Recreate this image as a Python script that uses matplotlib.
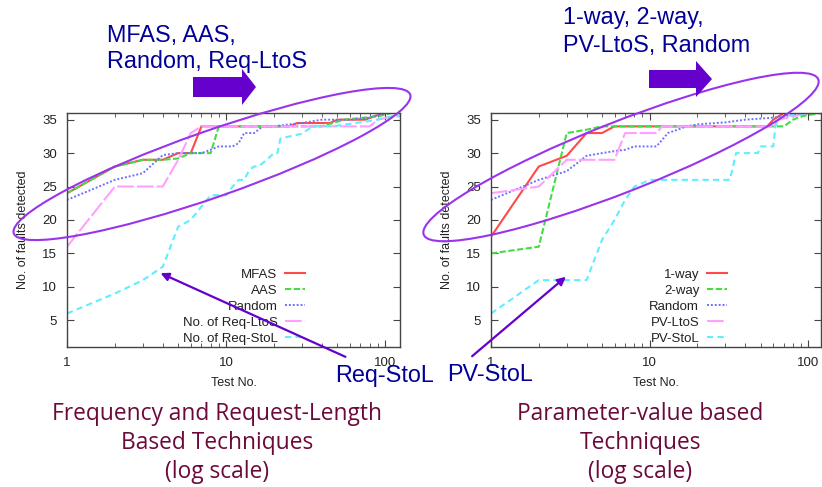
import matplotlib
matplotlib.use("Agg")
import matplotlib.pyplot as plt
from matplotlib.patches import Ellipse, Polygon

# ---- data ----
# left panel: frequency / request-length based
mfas_x = [1, 2, 3, 4, 5, 6, 7, 25, 28, 45, 50, 75, 85, 100, 124]
mfas_y = [24, 28, 29, 29, 30, 30, 34, 34, 34.5, 34.5, 35, 35, 35.5, 36, 36]
aas_x = [1, 2, 3, 4, 5, 6, 7, 8, 9, 40, 55, 90, 110, 124]
aas_y = [24, 28, 29, 29, 29.2, 30, 30, 30, 34, 34, 35, 35.5, 36, 36]
rand1_x = [1, 2, 3, 4, 5, 6, 7, 8, 9, 10, 11, 12, 13, 15, 17, 20, 25, 30, 40, 60, 80, 100, 124]
rand1_y = [23, 26, 27, 29.7, 30, 30, 30, 30.5, 31, 31, 31, 31.5, 33, 33, 34, 34, 34.3, 34.5, 35, 35, 35.3, 36, 36]
ltos_x = [1, 2, 3, 4, 5, 6, 7, 80, 90, 110, 124]
ltos_y = [16, 25, 25, 25, 29, 33, 34, 34, 35, 35.5, 35.5]
stol_x = [1, 2, 3, 4, 5, 6, 7, 8, 10, 11, 12, 13, 14, 15, 16, 18, 20, 21, 22, 30, 35, 50, 80, 120, 124]
stol_y = [6, 9, 11, 13, 19, 20, 22, 23.7, 23.7, 25, 26, 26, 27.5, 28, 28, 29, 30, 30, 32.2, 32.9, 34, 34.1, 34.8, 35.6, 35.6]

# right panel: parameter-value based
w1_x = [1, 2, 3, 4, 5, 6, 55, 60, 70, 120]
w1_y = [17.5, 28, 29.6, 33, 33, 34, 34, 35, 36, 36]
w2_x = [1, 2, 3, 4, 5, 70, 80, 90, 120]
w2_y = [15, 16, 33, 33.5, 34, 34, 35, 35.5, 36]
rand2_x = [1, 2, 3, 4, 5, 6, 7, 8, 9, 10, 11, 12, 13, 15, 17, 20, 30, 40, 60, 80, 100, 120]
rand2_y = [23, 26, 27.3, 29.6, 30, 30.3, 30.5, 31, 31, 31, 31, 32, 33, 33.5, 34, 34.3, 34.6, 35, 35.3, 35.7, 36, 36]
pvltos_x = [1, 2, 3, 4, 5, 6, 7, 8, 9, 10, 11, 12, 60, 65, 100, 120]
pvltos_y = [24, 25, 29, 29, 29, 29, 33, 33, 33, 33, 33, 34, 34, 35, 36, 36]
pvstol_x = [1, 2, 3, 4, 5, 6, 7, 8, 9, 10, 11, 32, 35, 48, 50, 60, 62, 64, 70, 100, 120]
pvstol_y = [6, 11, 11, 11, 17, 20, 23, 25, 25.5, 26, 26, 26, 30, 30, 31, 31, 34, 35, 35.5, 36, 36]

left_labels = ["MFAS", "AAS", "Random", "No. of Req-LtoS", "No. of Req-StoL"]
right_labels = ["1-way", "2-way", "Random", "PV-LtoS", "PV-StoL"]
y_ticks = [5, 10, 15, 20, 25, 30, 35]

# line styles (gnuplot look)
styles = [
    dict(color="#ff4a4a", lw=1.5, ls="-"),
    dict(color="#44dd44", lw=1.5, ls=(0, (3, 1.2))),
    dict(color="#7070ff", lw=1.4, ls=(0, (1, 1))),
    dict(color="#ffa0ff", lw=1.5, ls=(0, (8, 1.5))),
    dict(color="#60eeff", lw=1.5, ls=(0, (3, 2))),
]

plt.rcParams["font.family"] = ["Liberation Sans", "DejaVu Sans"]

W, H = 822, 487
fig = plt.figure(figsize=(W / 100, H / 100), dpi=100)


def make_panel(rect, series, labels, xmax):
    ax = fig.add_axes(rect)
    for (x, y), lab, st in zip(series, labels, styles):
        ax.plot(x, y, label=lab, **st)
    ax.set_xscale("log")
    ax.set_xlim(1, xmax)
    ax.set_ylim(1, 36)
    ax.set_yticks(y_ticks)
    ax.set_xticks([1, 10, 100])
    ax.set_xticklabels(["1", "10", "100"])
    ax.tick_params(which="both", direction="in", top=True, right=True,
                   labelsize=9.5, labelcolor="#222222", color="#444444")
    ax.tick_params(which="major", length=5, pad=7)
    ax.tick_params(which="minor", length=3)
    for s in ax.spines.values():
        s.set_color("#444444")
        s.set_linewidth(1.0)
    ax.set_xlabel("Test No.", fontsize=9, color="#222222", labelpad=6)
    ax.set_ylabel("No. of faults detected", fontsize=9, color="#222222", labelpad=10)
    ax.legend(loc="lower right", bbox_to_anchor=(0.715, 0.01), frameon=False,
              markerfirst=False, fontsize=9.5, handlelength=1.5, handletextpad=0.6,
              labelspacing=0.28, borderaxespad=0, borderpad=0, labelcolor="#222222")
    return ax


make_panel([67 / W, 1 - 347 / H, 333 / W, 234 / H],
           [(mfas_x, mfas_y), (aas_x, aas_y), (rand1_x, rand1_y), (ltos_x, ltos_y), (stol_x, stol_y)],
           left_labels, 124)
make_panel([491 / W, 1 - 347 / H, 330 / W, 234 / H],
           [(w1_x, w1_y), (w2_x, w2_y), (rand2_x, rand2_y), (pvltos_x, pvltos_y), (pvstol_x, pvstol_y)],
           right_labels, 120)

# ---- overlay in pixel coordinates for the annotations ----
ov = fig.add_axes([0, 0, 1, 1], zorder=10)
ov.set_xlim(0, W)
ov.set_ylim(H, 0)
ov.axis("off")
ov.patch.set_alpha(0)

purple = "#9933ee"
dark_purple = "#6600cc"
navy = "#000099"
wine = "#6b0a3a"

ov.add_patch(Ellipse((212, 164), 420, 66, angle=-19.3, fill=False, ec=purple, lw=1.5))
ov.add_patch(Ellipse((621, 157), 424, 70, angle=-21.5, fill=False, ec=purple, lw=1.5))

# block arrows
ov.add_patch(Polygon([(193, 77), (242, 77), (242, 69), (256, 87), (242, 105), (242, 97), (193, 97)],
                     closed=True, fc=dark_purple, ec="none"))
ov.add_patch(Polygon([(649, 70), (696, 70), (696, 61), (712, 79), (696, 97), (696, 88), (649, 88)],
                     closed=True, fc=dark_purple, ec="none"))

# pointer arrows
ov.annotate("", xy=(158, 272), xytext=(348, 358),
            arrowprops=dict(arrowstyle="-|>", color=dark_purple, lw=1.6, mutation_scale=12))
ov.annotate("", xy=(568, 275), xytext=(470, 358),
            arrowprops=dict(arrowstyle="-|>", color=dark_purple, lw=1.6, mutation_scale=12))

# blue callout texts
big = 16.8
ov.text(107, 42, "MFAS, AAS,", fontsize=big, color=navy, va="baseline")
ov.text(107, 68, "Random, Req-LtoS", fontsize=big, color=navy, va="baseline")
ov.text(563, 24, "1-way, 2-way,", fontsize=big, color=navy, va="baseline")
ov.text(563, 52, "PV-LtoS, Random", fontsize=big, color=navy, va="baseline")
ov.text(335, 382, "Req-StoL", fontsize=big, color=navy, va="baseline")
ov.text(447, 381, "PV-StoL", fontsize=big, color=navy, va="baseline")

# captions
cap_font = ["Open Sans", "DejaVu Sans"]
for i, line in enumerate(["Frequency and Request-Length", "Based Techniques", "(log scale)"]):
    ov.text(217, 420 + 29 * i, line, fontsize=16.4, color=wine, ha="center", va="baseline",
            family=cap_font)
for i, line in enumerate(["Parameter-value based", "Techniques", "(log scale)"]):
    ov.text(640, 420 + 29 * i, line, fontsize=16.4, color=wine, ha="center", va="baseline",
            family=cap_font)

fig.savefig("out.png", dpi=100)
